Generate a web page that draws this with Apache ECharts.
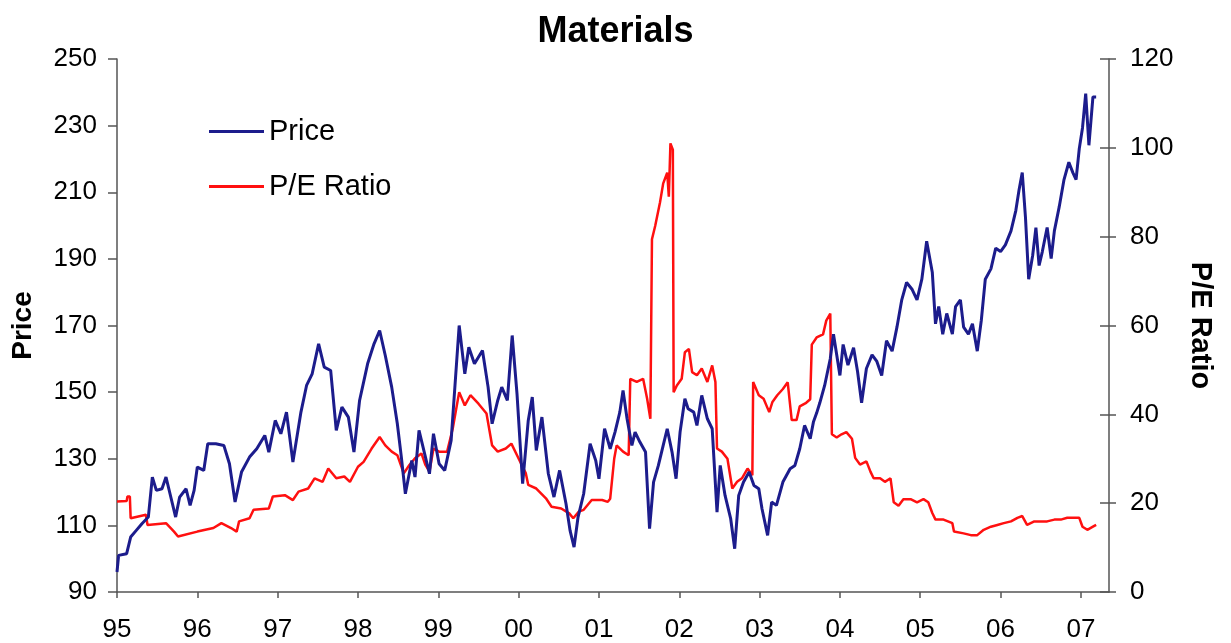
<!DOCTYPE html>
<html>
<head>
<meta charset="utf-8">
<script src="https://cdn.jsdelivr.net/npm/echarts@6/dist/echarts.min.js"></script>
<style>
html,body{margin:0;padding:0;background:#fff;}
#chart{width:1231px;height:643px;}
</style>
</head>
<body>
<div id="chart"></div>
<script>
var titleText = 'Materials';
var yearTicks = [1995,1996,1997,1998,1999,2000,2001,2002,2003,2004,2005,2006,2007];
var tickLabels = ['95','96','97','98','99','00','01','02','03','04','05','06','07'];

var priceYears = [
1995.00,1995.02,1995.12,1995.17,1995.24,1995.31,1995.39,1995.44,1995.49,1995.56,1995.61,1995.66,1995.73,1995.78,1995.86,1995.91,1995.96,
1996.00,1996.08,1996.13,1996.23,1996.33,1996.40,1996.47,1996.55,1996.65,1996.74,1996.84,1996.89,1996.97,
1997.04,1997.11,1997.19,1997.29,1997.36,1997.43,1997.51,1997.58,1997.66,1997.73,1997.80,1997.88,1997.95,
1998.02,1998.12,1998.20,1998.27,1998.34,1998.42,1998.49,1998.54,1998.59,1998.67,1998.71,1998.76,1998.84,1998.89,1998.94,
1999.01,1999.08,1999.16,1999.26,1999.33,1999.38,1999.45,1999.55,1999.62,1999.67,1999.74,1999.79,1999.86,1999.92,1999.98,
2000.05,2000.12,2000.17,2000.22,2000.29,2000.37,2000.44,2000.51,2000.59,2000.64,2000.69,2000.74,2000.81,2000.89,2000.96,
2001.00,2001.07,2001.14,2001.20,2001.26,2001.30,2001.35,2001.41,2001.45,2001.51,2001.58,2001.63,2001.68,2001.74,2001.80,2001.85,2001.91,2001.96,
2002.01,2002.07,2002.11,2002.18,2002.22,2002.28,2002.35,2002.41,2002.47,2002.51,2002.57,2002.64,2002.69,2002.74,2002.80,2002.87,2002.93,2002.99,
2003.03,2003.10,2003.15,2003.21,2003.29,2003.38,2003.44,2003.50,2003.56,2003.63,2003.67,2003.71,2003.75,2003.81,2003.88,2003.92,2003.96,
2004.00,2004.04,2004.10,2004.17,2004.22,2004.27,2004.33,2004.40,2004.46,2004.52,2004.58,2004.65,2004.71,2004.77,2004.83,2004.90,2004.96,
2005.02,2005.08,2005.15,2005.19,2005.23,2005.28,2005.33,2005.40,2005.44,2005.50,2005.54,2005.60,2005.65,2005.71,2005.76,2005.81,2005.88,2005.94,
2006.00,2006.06,2006.13,2006.19,2006.23,2006.27,2006.31,2006.35,2006.40,2006.44,2006.48,2006.52,2006.58,2006.63,2006.67,2006.73,2006.79,2006.85,2006.90,2006.94,2006.98,
2007.02,2007.06,2007.10,2007.15,2007.19
];
var priceValues = [
96,101,101.5,106.5,108.5,110.5,112.5,124.5,120.5,121,124.5,119.5,112.5,118.5,121,116,120.5,
127.5,126.5,134.5,134.5,134,128.5,117,126,130.5,133,137,132,141.5,
137.5,144,129,144,152,155.5,164.5,157.5,156.5,138.5,145.5,142.5,132,
147.5,158.5,164.5,168.5,161,151.5,140.5,130.5,119.5,129.5,124.5,138.5,130.5,125.5,137.5,
128.5,126.5,135.5,170,155.5,163.5,158.5,162.5,151.5,140.5,147.5,151.5,147.5,167,149.5,
122.5,141.5,148.5,132.5,142.5,125.5,118.5,126.5,116.5,108.5,103.5,112.5,119.5,134.5,129.5,
124,139,133,138,144,150.5,142,134,138,135,132,109,123,128,134,139,132,124,
138,148,145,144,140,149,142,139,114,128,119,112,103,119,123,126,122,121,
115,107,117,116,123,127,128,133,140,136,141,143.7,146.8,152,160,167.4,161.2,
155,164.3,158.1,163.3,156.1,146.8,157.1,161.2,159.2,155,165.4,162.3,169.5,177.7,182.9,180.8,177.7,
183.9,195.3,186,170.5,175.7,167.4,173.6,167.4,175.7,177.7,169.5,167.4,170.5,162.3,171.5,183.9,187,193.2,
192.2,194.2,198.4,204.5,210.7,215.9,202.5,183.9,191.1,199.4,188,192.2,199.4,190.1,198.4,205.6,213.8,219,215.9,213.8,223.1,
229.3,239.6,224.1,238.6,238.6
];

var peYears = [
1995.00,1995.12,1995.13,1995.16,1995.17,1995.36,1995.38,1995.61,1995.71,1995.76,
1996.00,1996.20,1996.30,1996.42,1996.49,1996.52,1996.65,1996.70,1996.89,1996.94,
1997.09,1997.19,1997.26,1997.38,1997.46,1997.56,1997.63,1997.73,1997.83,1997.90,
1998.00,1998.07,1998.17,1998.27,1998.34,1998.42,1998.49,1998.57,1998.64,1998.71,1998.79,1998.84,1998.89,1998.94,
1999.01,1999.11,1999.18,1999.26,1999.33,1999.40,1999.50,1999.60,1999.67,1999.74,1999.84,1999.91,1999.98,
2000.09,2000.12,2000.22,2000.34,2000.41,2000.53,2000.63,2000.68,2000.75,2000.81,2000.91,
2001.04,2001.11,2001.14,2001.19,2001.22,2001.30,2001.37,2001.39,2001.47,2001.55,2001.60,2001.64,2001.66,2001.70,2001.76,2001.80,2001.85,2001.87,2001.89,2001.92,2001.93,2001.97,
2002.03,2002.07,2002.12,2002.16,2002.22,2002.28,2002.35,2002.41,2002.45,2002.47,2002.53,2002.60,2002.66,2002.72,2002.78,2002.85,2002.91,2002.92,2002.99,
2003.05,2003.12,2003.16,2003.22,2003.29,2003.35,2003.40,2003.46,2003.50,2003.58,2003.63,2003.65,2003.71,2003.79,2003.83,2003.88,2003.90,2003.96,
2004.02,2004.08,2004.15,2004.19,2004.25,2004.33,2004.38,2004.42,2004.50,2004.56,2004.63,2004.67,2004.73,2004.79,2004.88,2004.96,
2005.04,2005.10,2005.15,2005.19,2005.29,2005.40,2005.42,2005.54,2005.63,2005.71,2005.79,2005.88,2005.96,
2006.04,2006.13,2006.21,2006.27,2006.33,2006.42,2006.50,2006.58,2006.67,2006.75,2006.83,2006.92,2006.98,
2007.02,2007.08,2007.15,2007.19
];
var peValues = [
20.4,20.5,21.5,21.5,16.6,17.4,15.1,15.5,13.6,12.5,
13.6,14.4,15.5,14.4,13.6,15.9,16.6,18.5,18.8,21.5,
21.8,20.7,22.6,23.3,25.6,24.8,27.8,25.6,26,24.8,
28.2,29.3,32.3,34.9,33,31.6,30.8,26.7,28.6,30.1,31.2,28.6,27.1,32.3,
31.6,31.6,36.8,45,42,44.3,42.4,40.2,33,31.6,32.3,33.4,30.8,
26.7,24.1,23.3,21.1,19.2,18.8,17.7,16.6,18.1,18.5,20.7,
20.7,20.3,21,30,33,31.6,30.8,48,47.3,48,43.5,39,79.4,82.4,87.7,92,94.4,89,101,99.6,45,46.5,
48,54,54.7,49.5,48.8,50.3,47.3,51,47.3,32.3,31.6,30,23.3,24.8,25.6,27.8,26.3,47.3,44.3,
43.5,40.5,42.8,44.3,45.7,47.2,38.7,38.7,41.8,42.6,43.4,55.7,57.3,58,61.1,62.7,35.5,34.8,
35.5,36,34.5,30.2,28.7,29.4,27.1,25.6,25.6,24.8,25.6,20.2,19.4,20.9,20.9,20.2,
20.9,20.2,17.8,16.3,16.3,15.5,13.6,13.2,12.8,12.8,14,14.7,15.1,
15.5,15.9,16.7,17.1,15.1,15.9,15.9,15.9,16.3,16.3,16.7,16.7,16.7,
14.7,14,14.7,15.1
];

function pairs(xs, ys){ var out=[]; for(var i=0;i<xs.length;i++){ out.push([xs[i], ys[i]]); } return out; }

var FONT = '"Liberation Sans", Arial, sans-serif';
var AXIS_COLOR = '#555';

var chart = echarts.init(document.getElementById('chart'), null, {renderer:'canvas'});
chart.setOption({
  animation: false,
  backgroundColor: '#fff',
  title: {
    text: titleText, left: 'center', top: 9,
    textStyle: {fontFamily: FONT, fontSize: 36, fontWeight: 'bold', color: '#000'}
  },
  legend: {
    orient: 'vertical', left: 204, top: 112,
    itemWidth: 55, itemHeight: 3, itemGap: 26, icon: 'rect',
    textStyle: {fontFamily: FONT, fontSize: 29, color: '#000', padding: [0,0,0,0]},
    data: ['Price', 'P/E Ratio']
  },
  grid: {left: 117, right: 122, top: 59, bottom: 49, containLabel: false},
  xAxis: {
    type: 'value', min: 1995, max: 2007.35,
    axisLine: {show: true, onZero: false, lineStyle: {color: AXIS_COLOR, width: 1.5}},
    axisTick: {show: true, inside: false, length: 6, customValues: yearTicks, lineStyle: {color: AXIS_COLOR, width: 1.5}},
    axisLabel: {
      show: true, margin: 25, customValues: yearTicks,
      fontFamily: FONT, fontSize: 26, color: '#000',
      formatter: function(v){ var i = yearTicks.indexOf(Math.round(v)); return i >= 0 ? tickLabels[i] : ''; }
    },
    splitLine: {show: false}
  },
  yAxis: [
    {
      type: 'value', min: 90, max: 250, interval: 20, position: 'left',
      name: 'Price', nameLocation: 'middle', nameRotate: 90, nameGap: 80,
      nameTextStyle: {fontFamily: FONT, fontSize: 28, fontWeight: 'bold', color: '#000'},
      axisLine: {show: true, lineStyle: {color: AXIS_COLOR, width: 1.5}},
      axisTick: {show: true, inside: false, length: 9, lineStyle: {color: AXIS_COLOR, width: 1.5}},
      axisLabel: {margin: 20, fontFamily: FONT, fontSize: 26, color: '#000'},
      splitLine: {show: false}
    },
    {
      type: 'value', min: 0, max: 120, interval: 20, position: 'right',
      name: 'P/E Ratio', nameLocation: 'middle', nameRotate: -90, nameGap: 76,
      nameTextStyle: {fontFamily: FONT, fontSize: 29, fontWeight: 'bold', color: '#000'},
      axisLine: {show: true, lineStyle: {color: AXIS_COLOR, width: 1.5}},
      axisTick: {show: true, inside: false, length: 7, lineStyle: {color: AXIS_COLOR, width: 1.5}},
      axisLabel: {margin: 21, fontFamily: FONT, fontSize: 26, color: '#000'},
      splitLine: {show: false}
    },
    {
      type: 'value', min: 0, max: 120, interval: 20, position: 'right',
      axisLine: {show: false},
      axisTick: {show: true, inside: true, length: 9, lineStyle: {color: AXIS_COLOR, width: 1.5}},
      axisLabel: {show: false},
      splitLine: {show: false}
    }
  ],
  series: [
    {
      name: 'Price', type: 'line', yAxisIndex: 0, showSymbol: false, symbol: 'none',
      data: pairs(priceYears, priceValues),
      lineStyle: {color: '#1c1c8c', width: 3},
      itemStyle: {color: '#1c1c8c'}, z: 3
    },
    {
      name: 'P/E Ratio', type: 'line', yAxisIndex: 1, showSymbol: false, symbol: 'none',
      data: pairs(peYears, peValues),
      lineStyle: {color: '#ff1010', width: 2.5},
      itemStyle: {color: '#ff1010'}, z: 2
    }
  ]
});
</script>
</body>
</html>
